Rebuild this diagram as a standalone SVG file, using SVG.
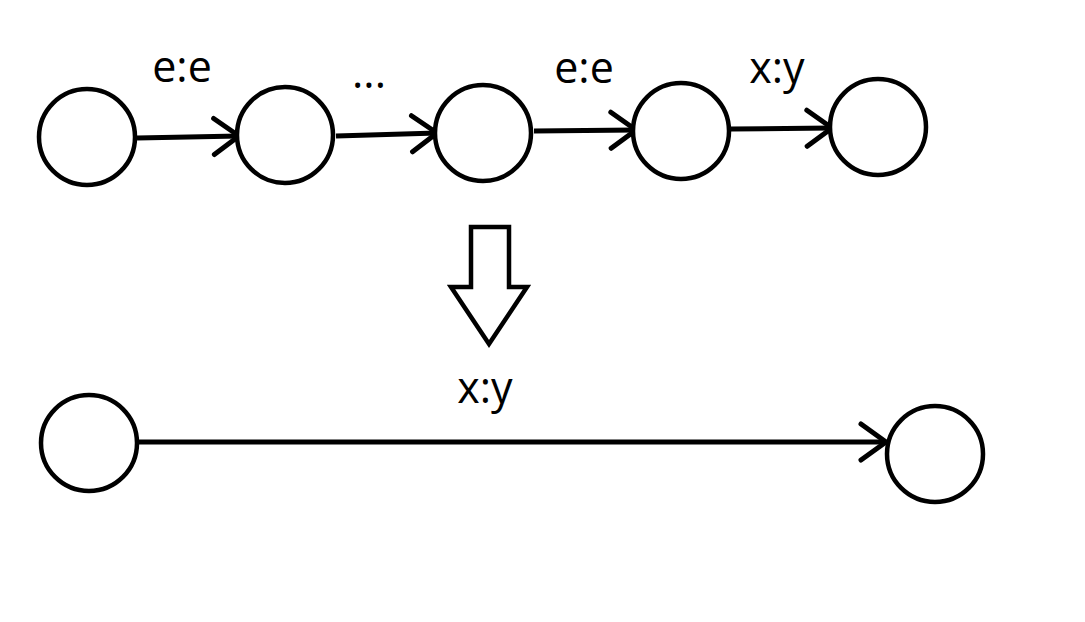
<svg xmlns="http://www.w3.org/2000/svg" width="1085" height="622" viewBox="0 0 1085 622">
<style>
.node{fill:#fff;stroke:#000;stroke-width:4.5}
.edge{fill:none;stroke:#000;stroke-width:5;marker-end:url(#chev)}
.lbl{font-family:"Open Sans","Noto Sans",sans-serif;font-size:43px;fill:#000;text-anchor:middle}
</style>
<defs>
<marker id="chev" markerUnits="userSpaceOnUse" viewBox="-30 -24 34 48" refX="0" refY="0" markerWidth="34" markerHeight="48" orient="auto" overflow="visible">
<path d="M-25,-18 L0,0 L-25,18" fill="none" stroke="#000" stroke-width="5" stroke-linecap="round" stroke-linejoin="round"/>
</marker>
</defs>
<rect width="1085" height="622" fill="#fff"/>
<g id="connectors">
<line class="edge" x1="137" y1="138" x2="239" y2="136"/>
<line class="edge" x1="336" y1="136" x2="437" y2="133"/>
<line class="edge" x1="534" y1="131" x2="636" y2="130"/>
<line class="edge" x1="731" y1="129" x2="832" y2="128"/>
<line class="edge" x1="138" y1="442" x2="886" y2="442"/>
<polygon id="transform-arrow" points="471,227 509,227 509,287 527,287 489,344 451,287 471,287" fill="#fff" stroke="#000" stroke-width="4.5" stroke-linejoin="miter"/>
</g>
<g id="n1"><circle class="node" cx="87" cy="137" r="48"/></g>
<g id="n2"><circle class="node" cx="285" cy="135" r="48"/></g>
<g id="n3"><circle class="node" cx="483" cy="133" r="48"/></g>
<g id="n4"><circle class="node" cx="681" cy="131" r="48"/></g>
<g id="n5"><circle class="node" cx="878" cy="127" r="48"/></g>
<g id="n6"><circle class="node" cx="89" cy="443" r="48"/></g>
<g id="n7"><circle class="node" cx="935" cy="454" r="48"/></g>
<g id="labels">
<text class="lbl" x="182" y="82">e:e</text>
<text class="lbl" x="369" y="88">...</text>
<text class="lbl" x="584" y="83">e:e</text>
<text class="lbl" x="777" y="83">x:y</text>
<text class="lbl" x="485" y="403">x:y</text>
</g>
</svg>
